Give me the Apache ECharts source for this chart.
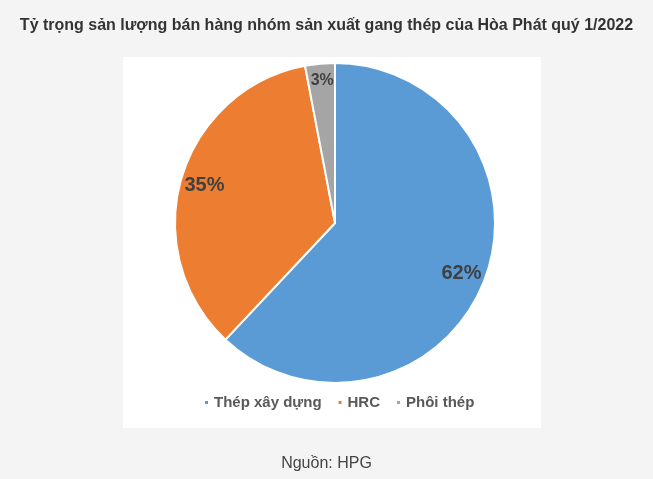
<!DOCTYPE html>
<html>
<head>
<meta charset="utf-8">
<script src="https://cdn.jsdelivr.net/npm/echarts@6/dist/echarts.min.js"></script>
<style>
html,body{margin:0;padding:0;background:#f4f4f4;}
#c{width:653px;height:479px;}
</style>
</head>
<body>
<div id="c"></div>
<script>
var titleText = 'Tỷ trọng sản lượng bán hàng nhóm sản xuất gang thép của Hòa Phát quý 1/2022';
var sourceText = 'Nguồn: HPG';
var categories = ['Thép xây dựng', 'HRC', 'Phôi thép'];
var values = [62, 35, 3];
var colors = ['#5B9BD5', '#ED7D31', '#A5A5A5'];

var chart = echarts.init(document.getElementById('c'), null, {renderer: 'canvas'});
var data = categories.map(function (n, i) { return {name: n, value: values[i], itemStyle: {color: colors[i]}}; });
var labelData = categories.map(function (n, i) {
  var d = {name: n, value: values[i]};
  if (i === 2) d.label = {fontSize: 16};
  return d;
});

chart.setOption({
  backgroundColor: '#f4f4f4',
  animation: false,
  title: [{
    text: titleText,
    left: 'center', top: 13,
    textStyle: {fontFamily: 'Liberation Sans, Arial, sans-serif', fontSize: 16, fontWeight: 'bold', color: '#333333'}
  }, {
    text: sourceText,
    left: 'center', top: 451,
    textStyle: {fontFamily: 'Liberation Sans, Arial, sans-serif', fontSize: 16, fontWeight: 'normal', color: '#444444'}
  }],
  graphic: [{
    type: 'rect', z: -10, silent: true,
    shape: {x: 123, y: 57, width: 418, height: 371},
    style: {fill: '#ffffff'}
  }],
  legend: {
    data: categories,
    left: 198, top: 390,
    icon: 'rect', itemWidth: 5, itemHeight: 5, itemGap: 15,
    textStyle: {fontFamily: 'Liberation Sans, Arial, sans-serif', fontSize: 15, fontWeight: 'bold', color: '#595959'}
  },
  series: [{
    type: 'pie',
    center: [335, 223],
    radius: [0, 160],
    startAngle: 90,
    clockwise: true,
    data: data,
    label: {show: false},
    labelLine: {show: false},
    itemStyle: {borderColor: '#ffffff', borderWidth: 2},
    emphasis: {disabled: true}
  }, {
    type: 'pie',
    center: [335, 223],
    radius: [106, 160],
    startAngle: 90,
    clockwise: true,
    silent: true,
    legendHoverLink: false,
    data: labelData,
    itemStyle: {color: 'rgba(0,0,0,0)'},
    label: {
      show: true, position: 'inside',
      formatter: function (p) { return p.value + '%'; },
      fontFamily: 'Liberation Sans, Arial, sans-serif', fontSize: 20, fontWeight: 'bold', color: '#404040'
    },
    labelLayout: function (p) {
      if (p.dataIndex === 2) return {dy: -7};
      return {};
    },
    labelLine: {show: false},
    emphasis: {disabled: true}
  }]
});
</script>
</body>
</html>
